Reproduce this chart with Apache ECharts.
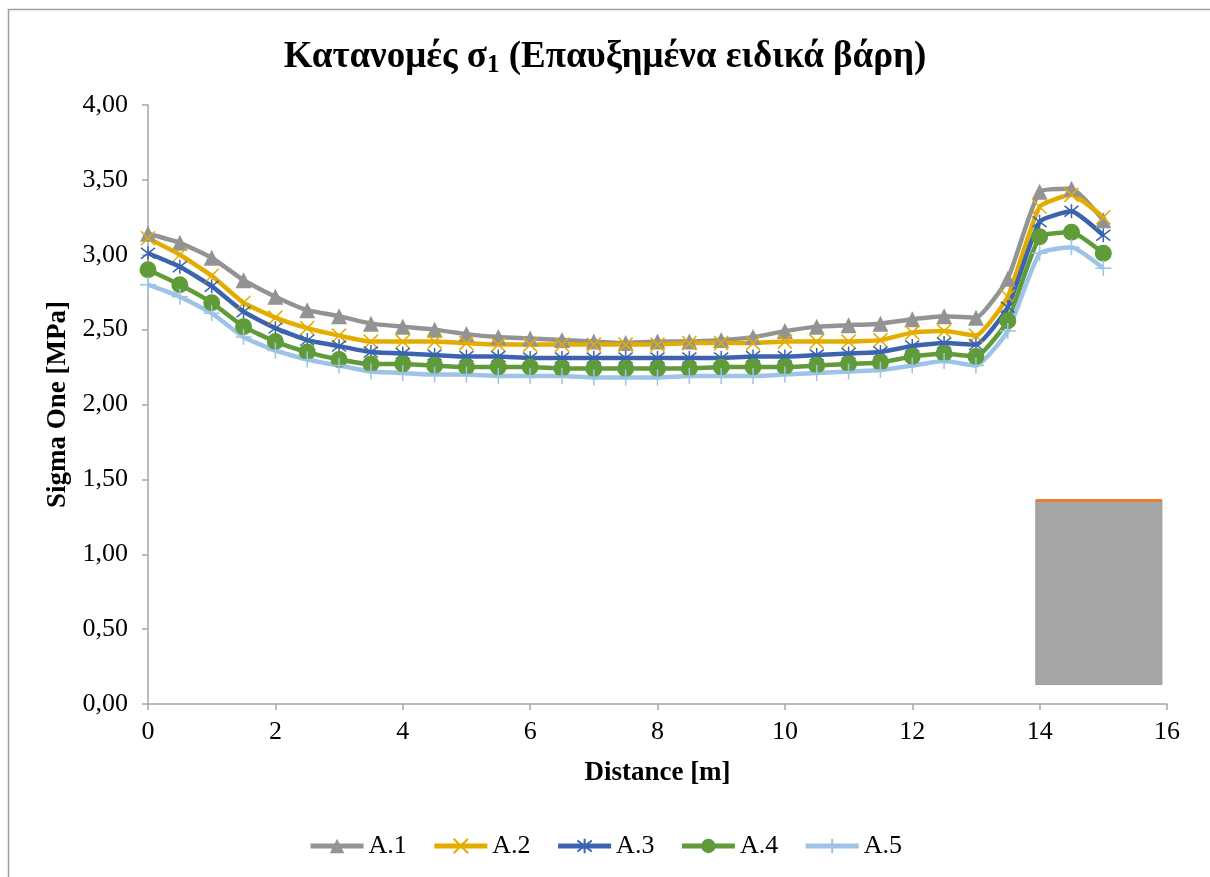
<!DOCTYPE html>
<html lang="el">
<head>
    <meta charset="UTF-8">
    <title>Κατανομές σ1</title>
    <script src="https://cdn.jsdelivr.net/npm/echarts@6/dist/echarts.min.js"></script>
    <style>
        body { margin: 0; background: #fff; }
        #chart { width: 1210px; height: 877px; }
    </style>
</head>
<body>
<div id="chart"></div>
<script type="text/javascript">
    // distance [m]
    var distance = [0, 0.5, 1, 1.5, 2, 2.5, 3, 3.5, 4, 4.5, 5, 5.5, 6, 6.5, 7, 7.5, 8, 8.5, 9, 9.5,
        10, 10.5, 11, 11.5, 12, 12.5, 13, 13.5, 14, 14.5, 15];

    var a1 = [3.14, 3.08, 2.98, 2.83, 2.72, 2.63, 2.59, 2.54, 2.52, 2.50, 2.47, 2.45, 2.44, 2.43, 2.42, 2.41,
        2.42, 2.42, 2.43, 2.45, 2.49, 2.52, 2.53, 2.54, 2.57, 2.59, 2.58, 2.84, 3.42, 3.44, 3.23];
    var a2 = [3.11, 3.00, 2.86, 2.68, 2.58, 2.51, 2.46, 2.42, 2.42, 2.42, 2.41, 2.40, 2.40, 2.40, 2.40, 2.40,
        2.40, 2.41, 2.41, 2.41, 2.42, 2.42, 2.42, 2.43, 2.48, 2.49, 2.46, 2.72, 3.32, 3.40, 3.25];
    var a3 = [3.01, 2.92, 2.79, 2.62, 2.51, 2.43, 2.39, 2.35, 2.34, 2.33, 2.32, 2.32, 2.31, 2.31, 2.31, 2.31,
        2.31, 2.31, 2.31, 2.32, 2.32, 2.33, 2.34, 2.35, 2.39, 2.41, 2.40, 2.65, 3.22, 3.29, 3.13];
    var a4 = [2.90, 2.80, 2.68, 2.52, 2.42, 2.35, 2.30, 2.27, 2.27, 2.26, 2.25, 2.25, 2.25, 2.24, 2.24, 2.24,
        2.24, 2.24, 2.25, 2.25, 2.25, 2.26, 2.27, 2.28, 2.32, 2.34, 2.32, 2.56, 3.12, 3.15, 3.01];
    var a5 = [2.80, 2.72, 2.61, 2.45, 2.36, 2.30, 2.26, 2.22, 2.21, 2.20, 2.20, 2.19, 2.19, 2.19, 2.18, 2.18,
        2.18, 2.19, 2.19, 2.19, 2.20, 2.21, 2.22, 2.23, 2.26, 2.29, 2.26, 2.49, 3.01, 3.05, 2.91];

    var seriesNames = ['A.1', 'A.2', 'A.3', 'A.4', 'A.5'];

    // stray grey box in the bottom-right corner (x from/to, y from/to)
    var boxX = [13.94, 15.92];
    var boxY = [0.13, 1.36];

    var yTicks = [0, 0.5, 1, 1.5, 2, 2.5, 3, 3.5, 4];

    function pairs(ys) {
        var out = [];
        for (var i = 0; i < distance.length; i++) {
            out.push([distance[i], ys[i]]);
        }
        return out;
    }

    var serif = '"Liberation Serif", "DejaVu Serif", serif';
    var axisGrey = '#a6a6a6';

    var symX = 'path://M0,0L10,10M10,0L0,10';
    var symStar = 'path://M0,0L10,10M10,0L0,10M5,-1.5L5,11.5';
    var symPlus = 'path://M5,0L5,10M0,5L10,5';

    function lineSeries(name, ys, color, symbol, size, stroked) {
        var s = {
            name: name,
            type: 'line',
            data: pairs(ys),
            smooth: 0.15,
            symbol: symbol,
            symbolSize: size,
            showAllSymbol: true,
            lineStyle: { color: color, width: 4.5 },
            itemStyle: { color: color },
            z: 3
        };
        if (stroked) {
            s.itemStyle = { color: color, borderColor: color, borderWidth: 1.5 };
        }
        return s;
    }

    var chart = echarts.init(document.getElementById('chart'));

    var option = {
        backgroundColor: '#fff',
        animation: false,
        graphic: [{
            type: 'rect',
            shape: { x: 8.5, y: 9.5, width: 1300, height: 1000 },
            style: { fill: 'none', stroke: '#a0a0a0', lineWidth: 1.5 },
            silent: true
        }],
        title: {
            text: 'Κατανομές σ{sub|1} (Επαυξημένα ειδικά βάρη)',
            left: 'center',
            top: 32,
            textStyle: {
                fontFamily: serif,
                fontSize: 37,
                fontWeight: 'bold',
                color: '#000',
                rich: {
                    sub: {
                        fontFamily: serif,
                        fontSize: 25,
                        fontWeight: 'bold',
                        color: '#000',
                        verticalAlign: 'bottom',
                        padding: [16, 0, 0, 0]
                    }
                }
            }
        },
        legend: {
            data: seriesNames,
            bottom: 13,
            left: 'center',
            itemWidth: 53,
            itemHeight: 18,
            itemGap: 25,
            lineStyle: { width: 5 },
            textStyle: { fontFamily: serif, fontSize: 26, color: '#000' }
        },
        grid: {
            left: 148,
            right: 43,
            top: 105,
            bottom: 173
        },
        xAxis: {
            type: 'value',
            min: 0,
            max: 16,
            interval: 2,
            name: 'Distance [m]',
            nameLocation: 'middle',
            nameGap: 56,
            nameTextStyle: { fontFamily: serif, fontSize: 27, fontWeight: 'bold', color: '#000' },
            axisLine: { show: true, lineStyle: { color: axisGrey, width: 1.5 } },
            axisTick: { show: true, length: 6, lineStyle: { color: axisGrey, width: 1.5 } },
            axisLabel: { fontFamily: serif, fontSize: 26, color: '#000', margin: 15 },
            splitLine: { show: false }
        },
        yAxis: {
            type: 'value',
            min: yTicks[0],
            max: yTicks[yTicks.length - 1],
            interval: 0.5,
            name: 'Sigma One [MPa]',
            nameLocation: 'middle',
            nameGap: 76,
            nameTextStyle: { fontFamily: serif, fontSize: 27, fontWeight: 'bold', color: '#000' },
            axisLine: { show: true, lineStyle: { color: axisGrey, width: 1.5 } },
            axisTick: { show: true, length: 6, lineStyle: { color: axisGrey, width: 1.5 } },
            axisLabel: {
                fontFamily: serif,
                fontSize: 26,
                color: '#000',
                margin: 20,
                formatter: function (v) { return v.toFixed(2).replace('.', ','); }
            },
            splitLine: { show: false }
        },
        series: [
            lineSeries(seriesNames[0], a1, '#939393', 'triangle', 16, false),
            lineSeries(seriesNames[1], a2, '#e5ac00', symX, 14, true),
            lineSeries(seriesNames[2], a3, '#3b64ad', symStar, 14, true),
            lineSeries(seriesNames[3], a4, '#609b3a', 'circle', 17, false),
            lineSeries(seriesNames[4], a5, '#9dc3e6', symPlus, 16, true),
            {
                name: 'box',
                type: 'line',
                data: [],
                z: 1,
                markArea: {
                    silent: true,
                    itemStyle: { color: '#a5a5a5', borderColor: '#999', borderWidth: 1 },
                    data: [[{ coord: [boxX[0], boxY[0]] }, { coord: [boxX[1], boxY[1]] }]]
                },
                markLine: {
                    silent: true,
                    symbol: 'none',
                    label: { show: false },
                    lineStyle: { color: '#ed7d31', width: 3, type: 'solid' },
                    data: [[{ coord: [boxX[0], boxY[1]] }, { coord: [boxX[1], boxY[1]] }]]
                }
            }
        ]
    };

    chart.setOption(option);
</script>
</body>
</html>
